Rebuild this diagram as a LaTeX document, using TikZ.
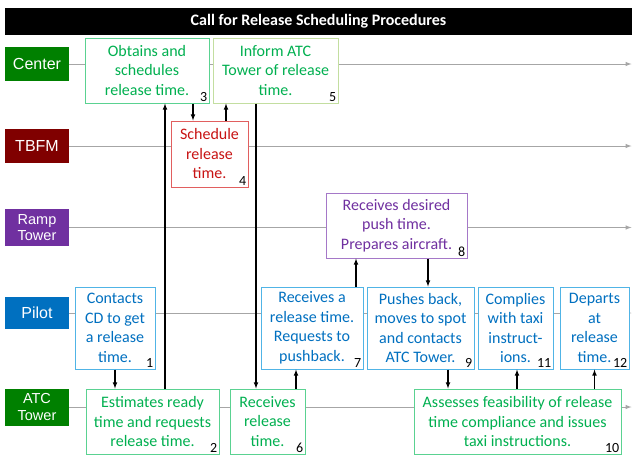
\documentclass[tikz,border=0pt]{standalone}
\usepackage{fontspec}
\setmainfont{Carlito}
\newfontfamily\lanefont{Liberation Sans}
\usetikzlibrary{arrows}

\definecolor{laneGreen}{RGB}{0,128,0}
\definecolor{laneRed}{RGB}{128,0,0}
\definecolor{lanePurple}{RGB}{112,48,160}
\definecolor{laneBlue}{RGB}{0,112,192}
\definecolor{txtGreen}{RGB}{0,176,80}
\definecolor{bdGreen}{RGB}{90,210,145}
\definecolor{bdOlive}{RGB}{195,222,160}
\definecolor{txtRed}{RGB}{200,20,20}
\definecolor{bdRed}{RGB}{225,95,95}
\definecolor{bdPurple}{RGB}{165,120,200}
\definecolor{bdBlue}{RGB}{80,180,230}
\definecolor{laneGray}{RGB}{166,166,166}

\tikzset{
  lane/.style={fill=#1, text=white, minimum width=64pt, inner sep=0pt, align=center},
  lanetxt/.style={font=\lanefont\fontsize{16}{18}\selectfont},
  lanetwo/.style={font=\lanefont\fontsize{14.5}{16.5}\selectfont},
  lane line/.style={draw=laneGray, line width=1pt, -latex},
  task/.style={draw=#1, line width=1pt, fill=white, inner sep=0pt, align=center,
    font=\fontsize{16}{19.5}\selectfont},
  num/.style={font=\fontsize{14}{15}\selectfont, inner sep=2pt, anchor=south east},
  flow/.style={draw=black, line width=1.1pt, -latex}
}

\begin{document}
\begin{tikzpicture}[x=1pt, y=-1pt]
  \useasboundingbox (0,0) rectangle (632,456);

  % title bar
  \node[fill=black, text=white, minimum width=627pt, minimum height=27pt, inner sep=0pt,
    font=\bfseries\fontsize{16}{18}\selectfont] (title) at (318.5,21.5)
    {Call for Release Scheduling Procedures};

  % swim lanes
  \node[lane=laneGreen, lanetxt, minimum height=34pt] (center) at (37,64) {Center};
  \node[lane=laneRed, lanetxt, minimum height=34pt] (tbfm) at (37,146) {TBFM};
  \node[lane=lanePurple, lanetwo, minimum height=37pt] (ramp) at (37,227.5) {Ramp\\Tower};
  \node[lane=laneBlue, lanetxt, minimum height=32pt] (pilot) at (37,313) {Pilot};
  \node[lane=laneGreen, lanetwo, minimum height=37pt] (atc) at (37,407) {ATC\\Tower};

  \coordinate (end) at (631.5,0);
  \draw[lane line] (center.east) -- (center.east -| end);
  \draw[lane line] (tbfm.east) -- (tbfm.east -| end);
  \draw[lane line] (ramp.east) -- (ramp.east -| end);
  \draw[lane line] (pilot.east) -- (pilot.east -| end);
  \draw[lane line] (atc.east) -- (atc.east -| end);

  % steps
  \node[task=bdBlue, text=laneBlue, minimum width=80pt, minimum height=82pt] (b1) at (115,328)
    {Contacts\\CD to get\\a release\\time.};
  \node[task=bdGreen, text=txtGreen, minimum width=133pt, minimum height=65pt] (b2) at (152.5,421.5)
    {Estimates ready\\time and requests\\release time.};
  \node[task=bdGreen, text=txtGreen, minimum width=124pt, minimum height=65pt] (b3) at (147,70.5)
    {Obtains and\\schedules\\release time.};
  \node[task=bdRed, text=txtRed, minimum width=77pt, minimum height=66pt] (b4) at (209.5,154)
    {Schedule\\release\\time.};
  \node[task=bdOlive, text=txtGreen, minimum width=125pt, minimum height=65pt] (b5) at (275.5,70.5)
    {Inform ATC\\Tower of release\\time.};
  \node[task=bdGreen, text=txtGreen, minimum width=75pt, minimum height=65pt] (b6) at (267.5,421.5)
    {Receives\\release\\time.};
  \node[task=bdBlue, text=laneBlue, minimum width=102pt, minimum height=82pt] (b7) at (312,328)
    {Receives a\\release time.\\Requests to\\pushback.};
  \node[task=bdPurple, text=lanePurple, minimum width=141pt, minimum height=65pt] (b8) at (396.5,225.5)
    {Receives desired\\push time.\\Prepares aircraft.};
  \node[task=bdBlue, text=laneBlue, minimum width=107pt, minimum height=82pt] (b9) at (420.5,328)
    {Pushes back,\\moves to spot\\and contacts\\ATC Tower.};
  \node[task=bdGreen, text=txtGreen, minimum width=207pt, minimum height=65pt] (b10) at (517.5,421.5)
    {Assesses feasibility of release\\time compliance and issues\\taxi instructions.};
  \node[task=bdBlue, text=laneBlue, minimum width=75pt, minimum height=82pt] (b11) at (515.5,328)
    {Complies\\with taxi\\instruct-\\ions.};
  \node[task=bdBlue, text=laneBlue, minimum width=69pt, minimum height=82pt] (b12) at (594.5,328)
    {Departs\\at\\release\\time.};

  % step numbers
  \foreach \b/\n in {b1/1,b2/2,b3/3,b4/4,b5/5,b6/6,b7/7,b8/8,b9/9,b10/10,b11/11,b12/12}
    \node[num] (n\n) at (\b.south east) {\n};

  % hand-offs
  \draw[flow] (b1.south) -- (b1.south |- b2.north);
  \draw[flow] ([xshift=12.5pt]b2.north) -- ([xshift=12.5pt]b2.north |- b3.south);
  \draw[flow] ([xshift=-16.5pt]b4.north |- b3.south) -- ([xshift=-16.5pt]b4.north);
  \draw[flow] ([xshift=16.5pt]b4.north) -- ([xshift=16.5pt]b4.north |- b5.south);
  \draw[flow] ([xshift=-11.5pt]b6.north |- b5.south) -- ([xshift=-11.5pt]b6.north);
  \draw[flow] ([xshift=28.5pt]b6.north) -- ([xshift=28.5pt]b6.north |- b7.south);
  \draw[flow] ([xshift=44pt]b7.north) -- ([xshift=44pt]b7.north |- b8.south);
  \draw[flow] ([xshift=7.5pt]b9.north |- b8.south) -- ([xshift=7.5pt]b9.north);
  \draw[flow] ([xshift=27.5pt]b9.south) -- ([xshift=27.5pt]b9.south |- b10.north);
  \draw[flow] ([xshift=1.5pt]b11.south |- b10.north) -- ([xshift=1.5pt]b11.south);
  \draw[flow] (b12.south |- b10.north) -- (b12.south);
\end{tikzpicture}
\end{document}
